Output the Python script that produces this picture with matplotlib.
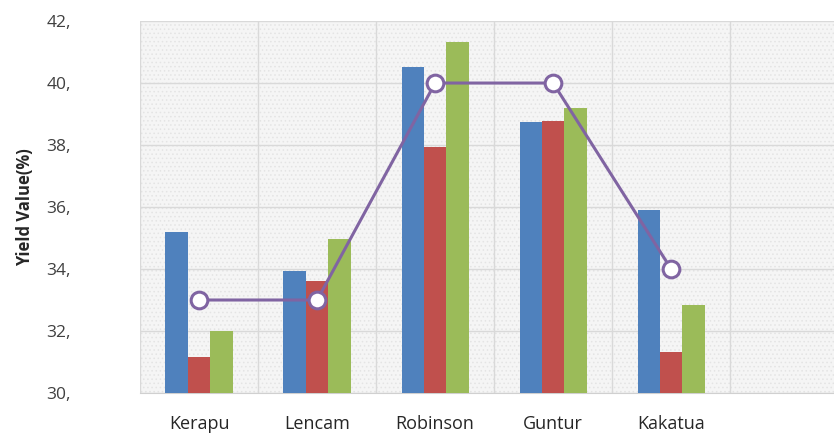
import matplotlib.pyplot as plt
import matplotlib.patches as mpatches
import numpy as np

# ----------------------------------------------------------------
# Data
categories = ['Kerapu', 'Lencam', 'Robinson', 'Guntur', 'Kakatua', '']
series_blue = [35.2, 33.95, 40.53, 38.75, 35.9]
series_red = [31.15, 33.6, 37.95, 38.78, 31.33]
series_green = [32.0, 34.98, 41.34, 39.2, 32.85]
line_values = [33, 33, 40, 40, 34]
y_ticks = [30, 32, 34, 36, 38, 40, 42]
y_tick_labels = [f'{v},' for v in y_ticks]

colors = ['#4F81BD', '#C0504D', '#9BBB59']
line_color = '#8064A2'

plt.rcParams['font.family'] = ['Open Sans', 'DejaVu Sans']
plt.rcParams['hatch.linewidth'] = 0.6

fig = plt.figure(figsize=(8.34, 4.34), dpi=100)
ax = fig.add_axes([0.168, 0.0945, 0.849, 0.857])

# Dotted plot-area background
ax.set_facecolor('#f5f5f5')
ax.add_patch(mpatches.Rectangle((0, 0), 1, 1, transform=ax.transAxes,
                                facecolor='#f5f5f5', edgecolor='#e4e4e4',
                                hatch='....', lw=0, zorder=0))

x = np.arange(len(series_blue))
bar_width = 0.19
for i, (vals, c) in enumerate(zip([series_blue, series_red, series_green], colors)):
    ax.bar(x + (i - 1) * bar_width, np.array(vals) - 30, bar_width, bottom=30,
           color=c, zorder=3)

ax.plot(x, line_values, color=line_color, linewidth=2.2, marker='o',
        markersize=12, markerfacecolor='white', markeredgecolor=line_color,
        markeredgewidth=2.2, zorder=4)

ax.set_xlim(-0.5, len(categories) - 0.5)
ax.set_ylim(30, 42)
ax.set_xticks(np.arange(len(categories)))
ax.set_xticklabels(categories, fontsize=13, color='#262626')
ax.set_yticks(y_ticks)
ax.set_yticklabels(y_tick_labels, fontsize=12.5, color='#404040')
ax.set_xticks(np.arange(len(categories) + 1) - 0.5, minor=True)
ax.tick_params(axis='both', which='both', length=0)
ax.tick_params(axis='x', pad=16)
ax.tick_params(axis='y', pad=50)

ax.grid(True, axis='y', which='major', color='#d9d9d9', linewidth=1, zorder=1)
ax.grid(True, axis='x', which='minor', color='#d9d9d9', linewidth=1, zorder=1)
ax.set_axisbelow(True)
for s in ax.spines.values():
    s.set_visible(False)
ax.spines['bottom'].set_visible(True)
ax.spines['bottom'].set_color('#d0d0d0')

ax.set_ylabel('Yield Value(%)', fontsize=12, fontweight='bold', color='#262626')
ax.yaxis.set_label_coords(-0.15, 0.5)

plt.savefig('out.png', dpi=100)
